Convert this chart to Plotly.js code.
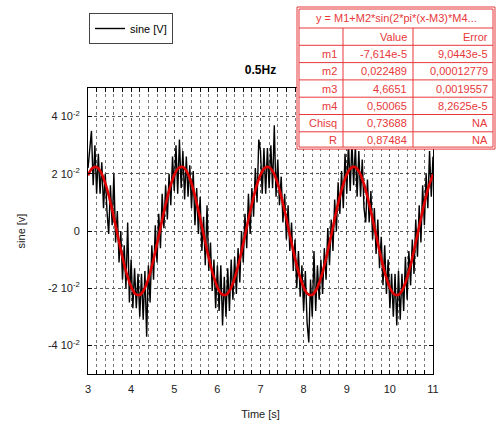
<!DOCTYPE html>
<html>
<head>
<meta charset="utf-8">
<script src="https://cdn.plot.ly/plotly-3.0.1.min.js"></script>
<style>html,body{margin:0;padding:0;background:#fff;}#chart{width:498px;height:430px;}</style>
</head>
<body>
<div id="chart"></div>
<script>
// ---- data ----
// measured signal, sampled every 0.04 s from t = 3 s, values in 1e-3 V
const timeStart = 3;
const sampleStep = 0.04;
const sineMilliV = [
 22,30,35,16,30,13,27,13,24,8,20,7,-1,16,2,20,-4,7,-11,0,
 -17,-5,-20,3,-25,-10,-27,-13,-27,-15,-30,-15,-31,-14,-37,-12,-25,-5,-17,2,
 -11,6,-6,13,1,16,4,20,9,26,
 14,30,13,32,15,28,11,26,12,23,8,21,2,15,-1,12,-7,5,-12,9,
 -14,-4,-21,-10,-27,-12,-28,-12,-33,-16,-30,-13,-28,-10,-24,-9,-22,-6,-18,0,
 -11,6,-6,13,-1,15,5,22,10,32,
 28,13,29,13,29,15,30,15,37,12,25,9,19,3,13,-3,9,-7,3,-14,
 -3,-20,-7,-23,-12,-28,-14,-32,-39,-17,-30,-7,-28,-12,-24,-10,-22,-6,-17,1,
 -12,4,-7,11,0,17,6,21,8,27,
 13,31,14,31,16,30,12,28,12,25,8,3,18,3,14,-3,8,-8,4,-13,
 -2,-19,-5,-22,-10,-27,-15,-30,-15,-33,-14,-31,-15,-28,-9,-24,-7,-19,-3,-15,
 4,-9,9,-4,16,2,20,8,28,12,26
];
// fitted curve, every 0.1 s from t = 3 s, values in 1e-3 V
const fitStep = 0.1;
const fitMilliV = [
 19.45,21.99,22.37,20.55,16.72,11.25,4.67,-2.37,-9.17,-15.07,
 -19.50,-22.01,-22.36,-20.51,-16.66,-11.17,-4.58,2.46,9.25,15.14,
 19.55,22.03,22.35,20.48,16.60,11.09,4.49,-2.55,-9.34,-15.21,
 -19.59,-22.05,-22.34,-20.44,-16.54,-11.00,-4.40,2.64,9.42,15.28,
 19.63,22.06,22.33,20.40,16.48,10.93,4.31,-2.73,-9.50,-15.34,
 -19.68,-22.08,-22.32,-20.36,-16.41,-10.85,-4.22,2.82,9.58,15.41,
 19.72,22.10,22.30,20.32,16.35,10.77,4.13,-2.91,-9.67,-15.48,
 -19.77,-22.12,-22.29,-20.28,-16.28,-10.69,-4.04,3.00,9.75,15.54,
 19.81
];
const seriesName = "sine [V]";
const chartTitle = "0.5Hz";
const xTitle = "Time [s]";
const yTitle = "sine [v]";
const yTickVals = [-0.04, -0.02, 0, 0.02, 0.04];
const yTickText = ["-4 10<sup>-2</sup>", "-2 10<sup>-2</sup>", "0", "2 10<sup>-2</sup>", "4 10<sup>-2</sup>"];
const xTickVals = [3,4,5,6,7,8,9,10,11];
// fit result table
const fitFormula = "y = M1+M2*sin(2*pi*(x-M3)*M4...";
const tableHead = ["", "Value", "Error"];
const paramNames = ["m1", "m2", "m3", "m4", "Chisq", "R"];
const paramValues = ["-7,614e-5", "0,022489", "4,6651", "0,50065", "0,73688", "0,87484"];
const paramErrors = ["9,0443e-5", "0,00012779", "0,0019557", "8,2625e-5", "NA", "NA"];

// ---- drawing ----
const W = 498, H = 430;
const mL = 88, mR = 65, mT = 88, mB = 56;
const pw = W - mL - mR, ph = H - mT - mB;
const px = v => (v - mL) / pw;          // pixel -> paper x
const py = v => (H - mB - v) / ph;      // pixel -> paper y

const font = "Liberation Sans, Arial, sans-serif";
const red = "#e8383a";

const traces = [
  {
    type: "scatter", mode: "lines", name: seriesName,
    x0: timeStart, dx: sampleStep,
    y: sineMilliV.map(v => v / 1000),
    line: {color: "#000", width: 1.4}
  },
  {
    type: "scatter", mode: "lines", name: "fit", showlegend: false,
    x0: timeStart, dx: fitStep,
    y: fitMilliV.map(v => v / 1000),
    line: {color: "#e00000", width: 2.6, shape: "spline"}
  }
];

// table geometry (pixels)
const tL = 297, tR = 495, c1 = 343, c2 = 413;
const rowTops = [7, 28];
for (let i = 0; i < 7; i++) rowTops.push(28 + 17.3 * (i + 1));
const tB = rowTops[rowTops.length - 1];

const shapes = [];
shapes.push({type: "rect", xref: "paper", yref: "paper", layer: "above",
  x0: px(tL), x1: px(tR), y0: py(rowTops[0]), y1: py(tB),
  fillcolor: "#fff", line: {color: red, width: 1}});
shapes.push({type: "rect", xref: "paper", yref: "paper", layer: "above",
  x0: px(tL + 2), x1: px(tR - 2), y0: py(rowTops[0] + 2), y1: py(tB - 2),
  fillcolor: "rgba(0,0,0,0)", line: {color: red, width: 1}});
for (let i = 1; i < rowTops.length - 1; i++) {
  shapes.push({type: "line", xref: "paper", yref: "paper", layer: "above",
    x0: px(tL + 2), x1: px(tR - 2), y0: py(rowTops[i]), y1: py(rowTops[i]),
    line: {color: red, width: 1}});
}
[c1, c2].forEach(c => shapes.push({type: "line", xref: "paper", yref: "paper", layer: "above",
  x0: px(c), x1: px(c), y0: py(rowTops[1]), y1: py(tB - 2), line: {color: red, width: 1}}));

const annotations = [];
const tf = {family: font, size: 11, color: red};
annotations.push({xref: "paper", yref: "paper", x: px((tL + tR) / 2), y: py((rowTops[0] + rowTops[1]) / 2),
  text: fitFormula, showarrow: false, xanchor: "center", yanchor: "middle", font: tf});
const colRight = [c1 - 4, c2 - 4, tR - 5];
function rowMid(r) { return (rowTops[r + 1] + rowTops[r + 2]) / 2; }
tableHead.forEach((t, j) => { if (t) annotations.push({xref: "paper", yref: "paper",
  x: px(colRight[j]), y: py(rowMid(0)), text: t, showarrow: false, xanchor: "right", yanchor: "middle", font: tf}); });
paramNames.forEach((n, i) => {
  [n, paramValues[i], paramErrors[i]].forEach((t, j) => annotations.push({xref: "paper", yref: "paper",
    x: px(colRight[j]), y: py(rowMid(i + 1)), text: t, showarrow: false, xanchor: "right", yanchor: "middle", font: tf}));
});

const layout = {
  width: W, height: H,
  margin: {l: mL, r: mR, t: mT, b: mB},
  paper_bgcolor: "#fff", plot_bgcolor: "#fff",
  font: {family: font, size: 11, color: "#222"},
  title: {text: "<b>" + chartTitle + "</b>", x: 0.5, xref: "paper", y: 1 - 70 / H, yanchor: "middle",
    font: {family: font, size: 12, color: "#000"}},
  showlegend: true,
  legend: {x: px(89), y: py(13), xanchor: "left", yanchor: "top", bgcolor: "#fff",
    bordercolor: "#444", borderwidth: 1, font: {family: font, size: 11, color: "#000"},
    tracegroupgap: 0, itemwidth: 30},
  xaxis: {
    range: [3, 11], tickvals: xTickVals, ticks: "inside", ticklen: 4, tickcolor: "#000",
    showline: true, linecolor: "#000", linewidth: 1, mirror: "ticks",
    showgrid: true, gridcolor: "#555", griddash: "dot", gridwidth: 1, zeroline: false,
    ticklabelstandoff: 5,
    minor: {dtick: 0.2, ticks: "inside", ticklen: 4, tickcolor: "#000", showgrid: true, gridcolor: "#777", griddash: "dot", gridwidth: 1},
    title: {text: xTitle, font: {family: font, size: 11, color: "#222"}, standoff: 16},
    tickfont: {family: font, size: 11, color: "#222"}
  },
  yaxis: {
    range: [-0.05, 0.05], tickvals: yTickVals, ticktext: yTickText, ticks: "inside", ticklen: 4, tickcolor: "#000",
    showline: true, linecolor: "#000", linewidth: 1, mirror: "ticks",
    showgrid: true, gridcolor: "#555", griddash: "dot", gridwidth: 1, zeroline: false,
    ticklabelstandoff: 5,
    title: {text: yTitle, font: {family: font, size: 11, color: "#222"}, standoff: 20},
    tickfont: {family: font, size: 11, color: "#222"}
  },
  shapes: shapes,
  annotations: annotations
};

Plotly.newPlot("chart", traces, layout, {staticPlot: true, displayModeBar: false});
</script>
</body>
</html>
